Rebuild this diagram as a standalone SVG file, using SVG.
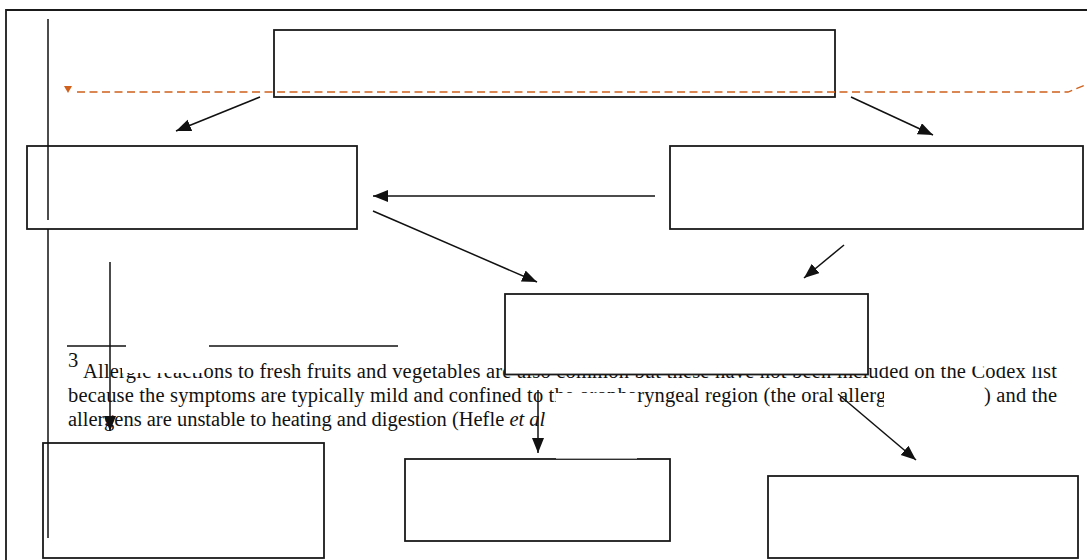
<svg xmlns="http://www.w3.org/2000/svg" width="1087" height="560" viewBox="0 0 1087 560">
<style>
.frame{fill:none;stroke:#1a1a1a;stroke-width:1.8}
.box{fill:#fff;stroke:#1a1a1a;stroke-width:1.8}
.ln{stroke:#111;stroke-width:1.5;fill:none}
.arr{stroke:#111;stroke-width:1.5;fill:none;marker-end:url(#ah)}
.txt{font-family:"Liberation Serif","Times New Roman",serif;font-size:20.5px;fill:#111}
.wh{fill:#fff;stroke:none}
.dash{stroke:#d0601c;stroke-width:1.3;fill:none;stroke-dasharray:8 4.5}
</style>
<defs>
<marker id="ah" markerUnits="userSpaceOnUse" markerWidth="17" markerHeight="13" refX="15" refY="6" orient="auto">
<path d="M0,0 L15,6 L0,12 z" fill="#111"/>
</marker>
</defs>
<rect width="1087" height="560" fill="#fff"/>
<path class="frame" d="M6,560 V10 H1090"/>

<g id="node-top"><rect class="box" x="274" y="30" width="561" height="67"/></g>
<g id="node-left"><rect class="box" x="27" y="146" width="330" height="83"/></g>
<g id="node-right"><rect class="box" x="670" y="146" width="413" height="83"/></g>

<g id="footnote">
<line class="ln" x1="67" y1="346" x2="126" y2="346" stroke-width="1.8"/>
<line class="ln" x1="209" y1="346" x2="398" y2="346" stroke-width="1.8"/>
<text class="txt" x="68" y="367" font-size="12px">3</text>
<text class="txt" x="83" y="377.5" textLength="974" lengthAdjust="spacing">Allergic reactions to fresh fruits and vegetables are also common but these have not been included on the Codex list</text>
<text class="txt" x="68" y="402" textLength="989" lengthAdjust="spacing">because the symptoms are typically mild and confined to the oropharyngeal region (the oral allergy syndrome) and the</text>
<text class="txt" x="68" y="426">allergens are unstable to heating and digestion (Hefle <tspan font-style="italic">et al</tspan></text>
<rect class="wh" x="122" y="348" width="81" height="25"/>
<rect class="wh" x="869" y="300" width="200" height="66.5"/>
<rect class="wh" x="884" y="383" width="100" height="29"/>
</g>

<g id="node-middle"><rect class="box" x="505" y="294" width="363" height="80.5"/></g>
<g id="node-bottom-left"><rect class="box" x="43" y="443" width="281" height="115"/></g>
<g id="node-bottom-middle"><rect class="box" x="405" y="459" width="265" height="82"/></g>
<g id="node-bottom-right"><rect class="box" x="768" y="476" width="310" height="82"/></g>
<rect class="wh" x="556" y="393" width="81" height="65.6"/>

<g id="connectors">
<path class="dash" d="M77,92 H1068 L1090,83"/>
<path d="M64,86 L72,86 L68,93 z" fill="#d0601c"/>
<line class="ln" x1="48" y1="19" x2="48" y2="220" stroke-width="2.2"/>
<line class="ln" x1="48" y1="229" x2="48" y2="538" stroke-width="2.2"/>
<line class="arr" x1="260" y1="97" x2="176" y2="131"/>
<line class="arr" x1="851" y1="97" x2="933" y2="135"/>
<line class="arr" x1="655" y1="196" x2="373" y2="196"/>
<line class="arr" x1="373" y1="211" x2="537" y2="282"/>
<line class="arr" x1="844" y1="245" x2="804" y2="278"/>
<line class="arr" x1="110" y1="262" x2="110" y2="431"/>
<line class="arr" x1="538" y1="390" x2="538" y2="453"/>
<line class="arr" x1="838" y1="394" x2="916" y2="460"/>
</g>
</svg>
